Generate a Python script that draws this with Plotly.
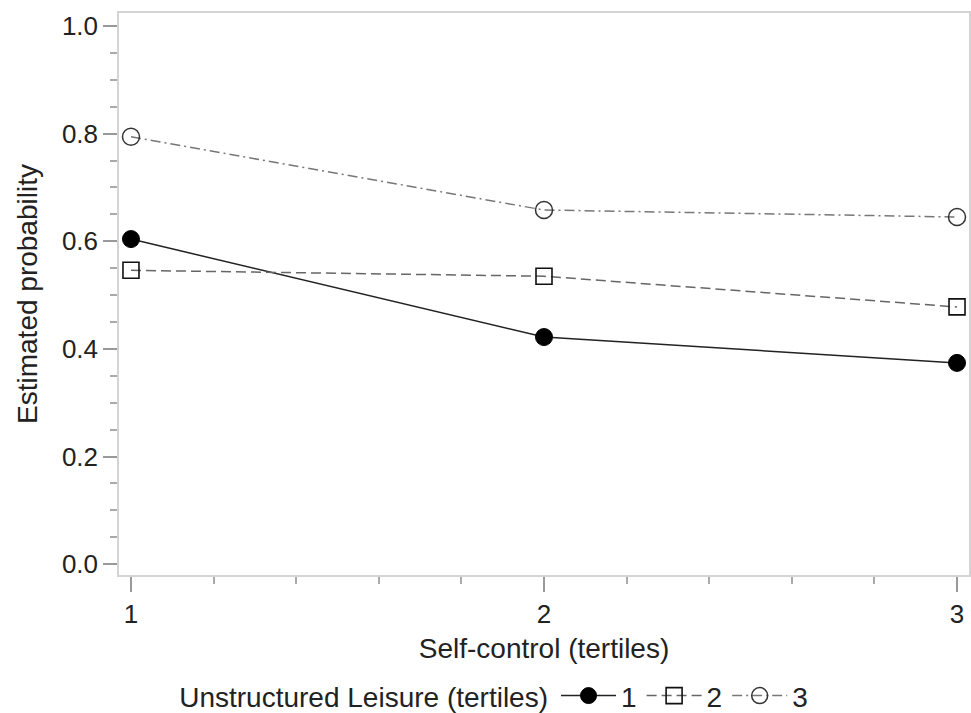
import plotly.graph_objects as go

self_control = [1, 2, 3]
leisure_labels = ["1", "2", "3"]
prob_1 = [0.604, 0.422, 0.374]
prob_2 = [0.546, 0.535, 0.478]
prob_3 = [0.794, 0.658, 0.645]

fig = go.Figure()
fig.add_trace(go.Scatter(
    x=self_control, y=prob_1, name=leisure_labels[0], mode="lines+markers",
    line=dict(color="#222222", width=1.5, dash="solid"),
    marker=dict(symbol="circle", size=17, color="black", line=dict(color="black", width=1)),
))
fig.add_trace(go.Scatter(
    x=self_control, y=prob_2, name=leisure_labels[1], mode="lines+markers",
    line=dict(color="#666666", width=1.5, dash="10px,5px"),
    marker=dict(symbol="square-open", size=16, color="#111111", line=dict(width=1.6)),
))
fig.add_trace(go.Scatter(
    x=self_control, y=prob_3, name=leisure_labels[2], mode="lines+markers",
    line=dict(color="#777777", width=1.5, dash="10px,4px,2px,4px"),
    marker=dict(symbol="circle-open", size=17, color="#333333", line=dict(width=1.5)),
))

font_family = "Liberation Sans, Arial, Helvetica, sans-serif"
fig.update_layout(
    width=971, height=713,
    margin=dict(l=119, r=2, t=13, b=138, autoexpand=False),
    paper_bgcolor="white", plot_bgcolor="white",
    font=dict(family=font_family, size=26, color="#222222"),
    showlegend=True,
    legend=dict(
        orientation="h", xref="container", yref="container",
        x=0.51, xanchor="center", y=0.024, yanchor="middle",
        title=dict(text="Unstructured Leisure (tertiles)", side="left", font=dict(size=28)),
        font=dict(size=28), itemwidth=55, tracegroupgap=0,
    ),
    xaxis=dict(
        automargin=True,
        range=[0.971, 3.029], tickmode="array", tickvals=self_control, ticktext=[str(v) for v in self_control],
        showgrid=False, zeroline=False, showline=True, mirror=True, linecolor="#d4d4d4", linewidth=1.5,
        ticks="outside", ticklen=15, tickwidth=1.5, tickcolor="#999999",
        minor=dict(dtick=0.2, tick0=1, ticks="outside", ticklen=7, tickwidth=1.5, tickcolor="#aaaaaa", showgrid=False),
        title=dict(text="Self-control (tertiles)", standoff=10, font=dict(size=28)),
        tickfont=dict(size=26),
    ),
    yaxis=dict(
        automargin=True,
        range=[-0.020, 1.024], tickmode="array", tickvals=[0, 0.2, 0.4, 0.6, 0.8, 1.0],
        ticktext=["0.0", "0.2", "0.4", "0.6", "0.8", "1.0"],
        showgrid=False, zeroline=False, showline=True, mirror=True, linecolor="#d4d4d4", linewidth=1.5,
        ticks="outside", ticklen=14, tickwidth=1.5, tickcolor="#999999",
        minor=dict(dtick=0.05, tick0=0, ticks="outside", ticklen=7, tickwidth=1.5, tickcolor="#aaaaaa", showgrid=False),
        title=dict(text="Estimated probability", standoff=16, font=dict(size=28)),
        tickfont=dict(size=26),
    ),
)

fig.write_html("out.html", config={"displayModeBar": False},
               post_script="document.body.style.margin='0';")
